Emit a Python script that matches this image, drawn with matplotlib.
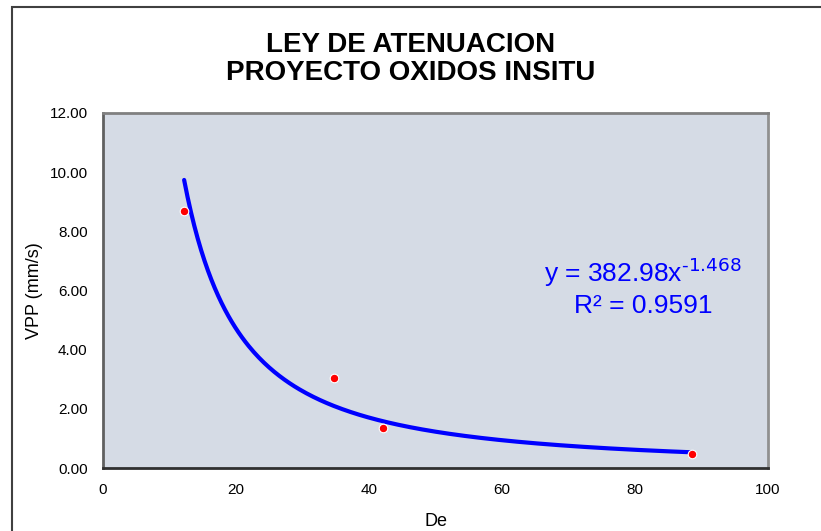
import numpy as np
import matplotlib.pyplot as plt
from matplotlib.patches import Rectangle

plt.rcParams['font.family'] = ['Liberation Sans', 'DejaVu Sans']
plt.rcParams['mathtext.default'] = 'regular'
plt.rcParams['axes.unicode_minus'] = False

# distancia escalada vs velocidad pico de particula
de = [12.2, 34.7, 42.1, 88.6]
vpp = [8.69, 3.04, 1.35, 0.47]

# ajuste potencial y = a * x^b
a_coef = 382.98
b_coef = -1.468
r2 = 0.9591

W, H = 821, 531
fig = plt.figure(figsize=(W/100, H/100), dpi=100)

# marco del grafico (sigue mas alla del borde derecho e inferior)
fig.add_artist(Rectangle((12/W, -0.1), 0.99, 1.1 - 7/H,
                         transform=fig.transFigure, fill=False,
                         edgecolor='#404040', lw=1.5))

ax = fig.add_axes([103/W, 1-468/H, 665/W, 355/H])
ax.set_facecolor('#D5DBE5')

xs = np.linspace(min(de), max(de), 300)
ax.plot(xs, a_coef * xs**b_coef, color='#0000FF', lw=3, solid_capstyle='round', zorder=2)
ax.scatter(de, vpp, s=38, color='#FF0000', edgecolor='white', linewidth=0.8, zorder=3)

ax.set_xlim(0, 100)
ax.set_ylim(0, 12)
ax.set_xticks(np.arange(0, 101, 20))
ax.set_yticks(np.arange(0, 12.1, 2))
ax.set_yticklabels(['%.2f' % v for v in np.arange(0, 12.1, 2)])
ax.tick_params(labelsize=11, length=0)
ax.tick_params(axis='y', pad=11)
ax.tick_params(axis='x', pad=11)

ax.spines['left'].set_color('#606060')
ax.spines['top'].set_color('#808080')
ax.spines['bottom'].set_color('#303030')
ax.spines['right'].set_color('#909090')
for s in ax.spines.values():
    s.set_linewidth(2)

ax.set_xlabel('De', fontsize=13, labelpad=11)
ax.set_ylabel('VPP (mm/s)', fontsize=13, labelpad=5)

fig.suptitle('LEY DE ATENUACION\nPROYECTO OXIDOS INSITU', fontsize=20,
             fontweight='bold', y=0.94, linespacing=1.12)

ax.text(0.812, 0.51, 'y = %.2fx$^{\\text{%.3f}}$\nR² = %.4f' % (a_coef, b_coef, r2),
        transform=ax.transAxes, ha='center', va='center', fontsize=19,
        color='#0000FF', linespacing=1.25)

fig.savefig('out.png', dpi=100)
